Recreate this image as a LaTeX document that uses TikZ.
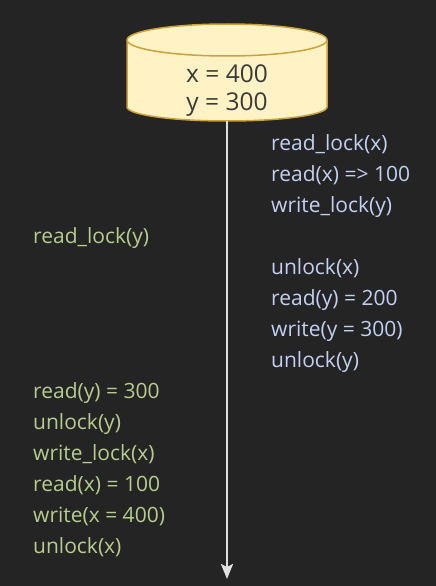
\documentclass[tikz,border=0pt]{standalone}
\usepackage{fontspec}
\setmainfont{Open Sans}
\usetikzlibrary{arrows.meta}
\definecolor{bg}{HTML}{242424}
\definecolor{dbfill}{HTML}{FFF2C4}
\definecolor{dbline}{HTML}{C9A23C}
\definecolor{dbtext}{HTML}{3A3A3A}
\definecolor{tone}{HTML}{C3D0F2}
\definecolor{ttwo}{HTML}{B7CC8E}
\tikzset{
  op/.style={anchor=base west,inner sep=0pt,font=\fontsize{21}{24}\selectfont,text=#1},
  val/.style={anchor=base,inner sep=0pt,font=\fontsize{24.5}{28}\selectfont,text=dbtext},
  timeline/.style={draw=white!88!black,line width=2.6pt,-{Stealth[length=15pt,width=12pt,inset=3pt]}}
}

\begin{document}
\begin{tikzpicture}[x=1pt,y=-1pt]
    \fill[bg] (0,0) rectangle (436,586);
    \useasboundingbox (0,0) rectangle (436,586);

    % database
    \draw [dbline, fill=dbfill, line width=1.5pt] (127,40) -- (127,107)
      arc [start angle=180, end angle=0, x radius=100, y radius=14] -- (327,40)
      arc [start angle=0, end angle=-180, x radius=100, y radius=16] -- cycle;
    \draw [dbline, line width=1.5pt] (127,40) arc [start angle=180, end angle=0, x radius=100, y radius=16];
    \node [val] (xval) at (227,82) {x = 400};
    \node [val] (yval) at (227,110) {y = 300};

    \coordinate (dbbase) at (227,121);
    \coordinate (tend) at (227,579);
    \draw [timeline] (dbbase) -- (tend);

    % first transaction
    \node [op=tone] (r1) at (271,150) {read\_lock(x)};
    \node [op=tone] (r2) at (271,181) {read(x) => 100};
    \node [op=tone] (r3) at (271,212) {write\_lock(y)};
    \node [op=tone] (r4) at (271,274) {unlock(x)};
    \node [op=tone] (r5) at (271,305) {read(y) = 200};
    \node [op=tone] (r6) at (271,336) {write(y = 300)};
    \node [op=tone] (r7) at (271,367) {unlock(y)};

    % second transaction
    \node [op=ttwo] (l1) at (33,243) {read\_lock(y)};
    \node [op=ttwo] (l2) at (33,398) {read(y) = 300};
    \node [op=ttwo] (l3) at (33,429) {unlock(y)};
    \node [op=ttwo] (l4) at (33,460) {write\_lock(x)};
    \node [op=ttwo] (l5) at (33,491) {read(x) = 100};
    \node [op=ttwo] (l6) at (33,522) {write(x = 400)};
    \node [op=ttwo] (l7) at (33,553) {unlock(x)};
\end{tikzpicture}
\end{document}
